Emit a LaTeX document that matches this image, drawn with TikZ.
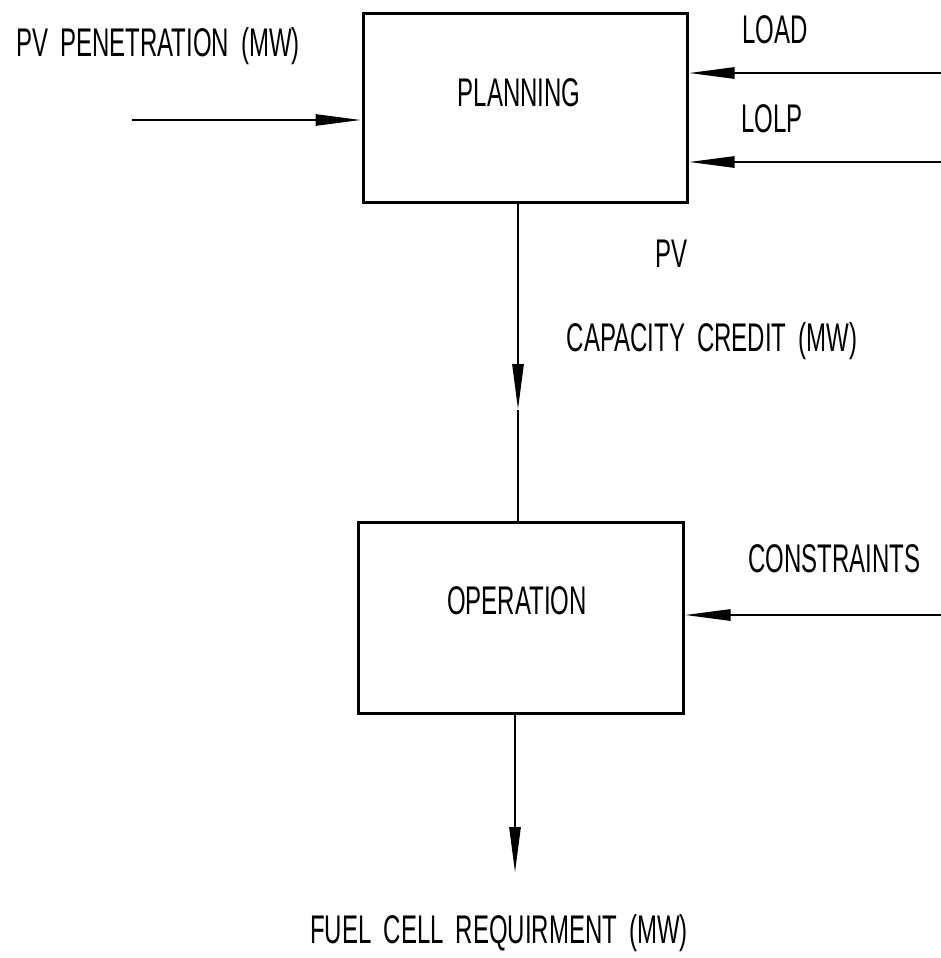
\documentclass[tikz,border=0pt]{standalone}
\usepackage{fontspec}
\setmainfont{Liberation Sans}[FakeStretch=0.6,WordSpace=1.8]
\usetikzlibrary{arrows.meta}
\begin{document}
\begin{tikzpicture}[x=1pt,y=-1pt,
  blockbox/.style={draw=black,line width=3pt,inner sep=0pt},
  lbl/.style={font=\fontsize{40}{44}\selectfont,inner sep=0pt,anchor=center},
  arr/.style={line width=2.8pt,-{Triangle[length=46pt,width=11pt]}},
  ln/.style={line width=2.4pt}]
\useasboundingbox[fill=white] (0,0) rectangle (941,958);
% boxes
\node[blockbox,minimum width=324pt,minimum height=188pt] (planning) at (525,108) {};
\node[blockbox,minimum width=325pt,minimum height=191pt] (operation) at (520.5,617.5) {};
% texts
\node[lbl] (tplan) at (519,93) {PLANNING};
\node[lbl] (toper) at (517,601) {OPERATION};
\node[lbl] (tpen) at (158,46) {PV PENETRATION (MW)};
\node[lbl] (tload) at (775,30) {LOAD};
\node[lbl] (tlolp) at (772,119) {LOLP};
\node[lbl] (tpv) at (671,254) {PV};
\node[lbl] (tcap) at (712,341) {CAPACITY CREDIT (MW)};
\node[lbl] (tcons) at (834,559) {CONSTRAINTS};
\node[lbl] (tfuel) at (499,933) {FUEL CELL REQUIRMENT (MW)};
% connector end points
\coordinate (pvin) at (132,120);
\coordinate (loadin) at (941,73);
\coordinate (lolpin) at (941,162);
\coordinate (consin) at (941,615);
\coordinate (mid) at (518,410);
\coordinate (fuelout) at (515,873);
% connectors
\draw[arr] (pvin) -- (pvin -| planning.west);
\draw[arr] (loadin) -- (loadin -| planning.east);
\draw[arr] (lolpin) -- (lolpin -| planning.east);
\draw[arr] (planning.south -| mid) -- (mid);
\draw[ln] (mid) -- (mid |- operation.north);
\draw[arr] (consin) -- (consin -| operation.east);
\draw[arr] (operation.south -| fuelout) -- (fuelout);
\end{tikzpicture}
\end{document}
